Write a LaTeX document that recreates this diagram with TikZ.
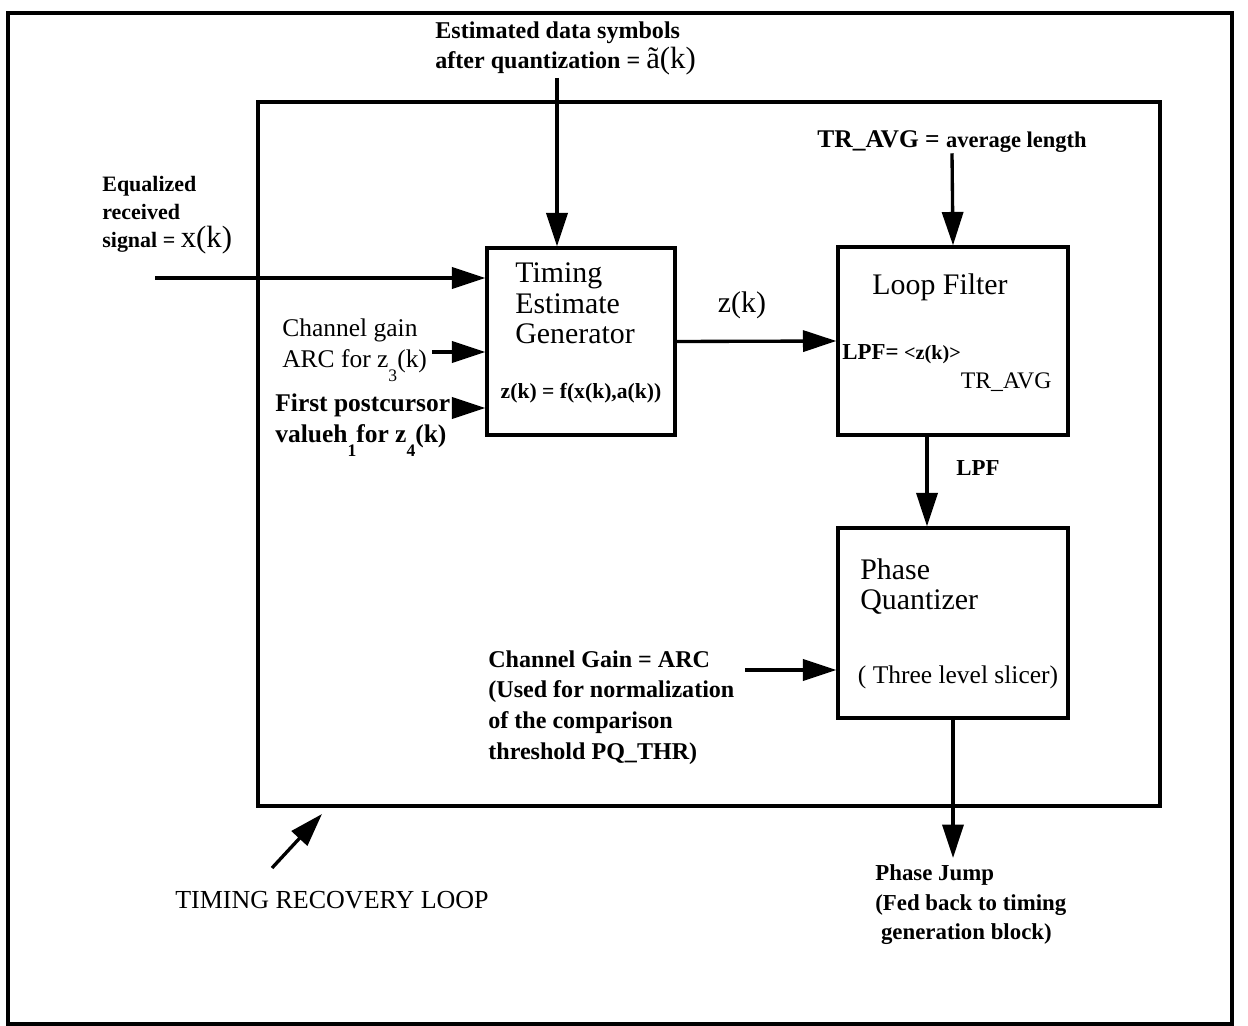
\documentclass[tikz,border=0pt]{standalone}
\usepackage{fontspec}
\setmainfont{Liberation Serif}
\usetikzlibrary{positioning,arrows.meta}

\tikzset{
  block/.style={draw,line width=1.9pt,inner sep=0pt},
  sig/.style={line width=1.9pt,-{Triangle[length=19pt,width=12pt]}},
  lbl/.style={inner sep=0pt,align=left,font=\bfseries\fontsize{13}{17}\selectfont},
  big/.style={inner sep=0pt,align=left,font=\fontsize{17}{17.6}\selectfont},
}
\newcommand{\lowsub}[1]{\raisebox{-0.55em}{\fontsize{10}{10}\selectfont #1}}

\begin{document}
\begin{tikzpicture}[x=0.02cm,y=-0.02cm]
  \useasboundingbox (0,0) rectangle (1248,1026);

  % ---------------------------------------------------------------- FRAMES
  \draw[line width=1.9pt] (8,13) rectangle (1232,1024);
  \draw[line width=1.9pt] (258,102) rectangle (1160,806);

  % ---------------------------------------------------------------- BLOCKS
  \node[block,minimum width=3.76cm,minimum height=3.74cm] (teg) at (581,341.5) {};
  \node[block,minimum width=4.6cm,minimum height=3.76cm] (lf) at (953,341) {};
  \node[block,minimum width=4.6cm,minimum height=3.8cm] (pq) at (953,623) {};

  \node[big,anchor=north west] (tegname) at (515,262) {Timing\\Estimate\\Generator};
  \node[lbl,anchor=center,font=\bfseries\fontsize{12.3}{14}\selectfont] (tegfun) at (581,393)
    {z(k) = f(x(k),a(k))};

  \node[big,anchor=center] (lfname) at (940,287) {Loop Filter};
  \node[lbl,anchor=base west] (lfeq) at (842,360)
    {LPF=~{\fontsize{11.5}{11}\selectfont<z(k)>}\raisebox{-1.25em}{\mdseries\fontsize{13.5}{13}\selectfont TR\_AVG}};

  \node[big,anchor=north west] (pqname) at (860,558) {Phase\\Quantizer};
  \node[inner sep=0pt,font=\fontsize{14.5}{17}\selectfont] (slicer) at (958,677)
    {( Three level slicer)};

  % ---------------------------------------------------------------- INPUT LABELS
  \node[lbl,anchor=north west,font=\bfseries\fontsize{13.7}{17.5}\selectfont] (est) at (435,21)
    {Estimated data symbols\\after quantization = {\mdseries\fontsize{17.5}{17}\selectfont \~a(k)}};
  \node[lbl,anchor=center] (travg) at (952,142)
    {\fontsize{14.5}{17}\selectfont TR\_AVG = {\fontsize{12.8}{17}\selectfont average length}};
  \node[lbl,anchor=north west,font=\bfseries\fontsize{12.5}{16}\selectfont] (eq) at (102,176)
    {Equalized\\received\\signal = {\mdseries\fontsize{17.5}{16}\selectfont x(k)}};
  \node[inner sep=0pt,anchor=north west,align=left,font=\fontsize{14.5}{18}\selectfont] (chg) at (282,318)
    {Channel gain\\ARC for z\lowsub{3}(k)};
  \node[lbl,anchor=north west,font=\bfseries\fontsize{14.5}{18}\selectfont] (fpc) at (275,393)
    {First postcursor\\valueh\lowsub{1}for z\lowsub{4}(k)};
  \node[lbl,anchor=north west,font=\bfseries\fontsize{13.7}{17.5}\selectfont] (cg) at (488,650)
    {Channel Gain = ARC\\(Used for normalization\\of the comparison\\threshold PQ\_THR)};

  % ---------------------------------------------------------------- SIGNAL LABELS
  \node[inner sep=0pt,font=\fontsize{17}{17}\selectfont] (zk) at (742,305) {z(k)};
  \node[lbl] (lpf) at (978,468) {LPF};
  \node[lbl,anchor=north west] (pj) at (875,864)
    {Phase Jump\\(Fed back to timing\\\ generation block)};
  \node[inner sep=0pt,font=\fontsize{14.8}{17}\selectfont] (trl) at (332,900) {TIMING RECOVERY LOOP};

  % ---------------------------------------------------------------- ARROWS
  \coordinate (estin) at (557,78);
  \coordinate (xin) at (155,278);
  \coordinate (chgin) at (432,352);
  \coordinate (fpcin) at (452,408);
  \coordinate (cgin) at (745,670);
  \coordinate (pjout) at (953,858);
  \coordinate (trltail) at (272,868);
  \coordinate (trlhead) at (322,814);

  \draw[sig] (estin) -- (estin |- teg.north);
  \draw[sig] (travg.south) -- (lf.north);
  \draw[sig] (xin) -- (xin -| teg.west);
  \draw[sig] (chgin) -- (chgin -| teg.west);
  \draw[sig] (fpcin) -- (fpcin -| teg.west);
  \draw[sig] (teg.east) -- (lf.west);
  \draw[sig] ([xshift=-0.52cm]lf.south) -- ([xshift=-0.52cm]pq.north);
  \draw[sig] (cgin) -- (cgin -| pq.west);
  \draw[sig] (pq.south) -- (pjout);
  \draw[sig] (trltail) -- (trlhead);

\end{tikzpicture}
\end{document}
